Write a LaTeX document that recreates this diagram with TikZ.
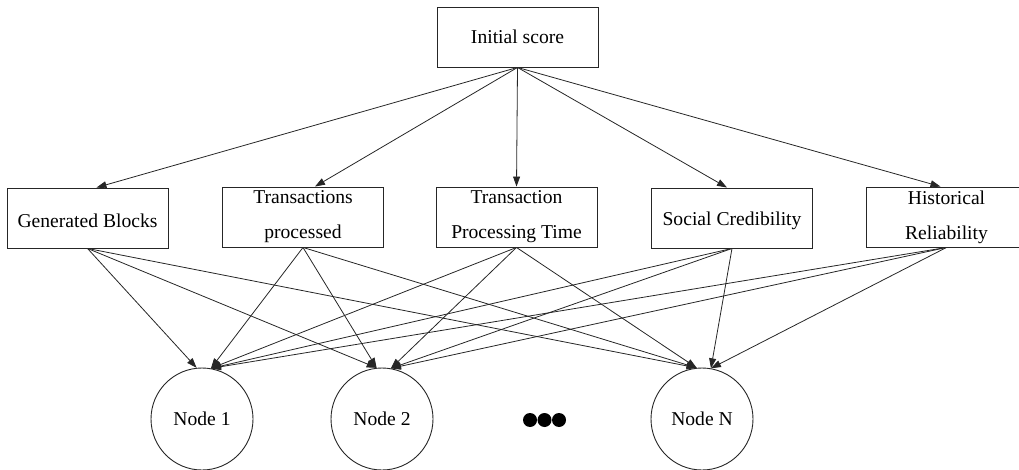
\documentclass[tikz,border=0pt]{standalone}
\usepackage{fontspec}
\setmainfont{Liberation Serif}
\usetikzlibrary{arrows.meta}
\newcommand{\lowtext}[1]{\raisebox{-3pt}[\height][\depth]{#1}}
\begin{document}
\begin{tikzpicture}[x=1pt,y=-1pt,
  box/.style={draw=black!85,line width=0.9pt,minimum width=161pt,minimum height=60pt,inner sep=0pt,align=center,font=\fontsize{19.6}{35}\selectfont},
  circ/.style={draw=black!85,line width=0.9pt,circle,minimum size=102pt,inner sep=0pt,font=\fontsize{19.6}{23}\selectfont},
  edge/.style={draw=black!85,line width=0.8pt,-{Triangle[length=10pt,width=7pt]}}]
\useasboundingbox (0,0) rectangle (1019,470);
\node[box] (init) at (517.5,37) {Initial score};
\node[box] (gb)  at (87.5,218)  {\lowtext{Generated Blocks}};
\node[box] (tp)  at (303,217)   {Transactions\\processed};
\node[box] (tpt) at (516.5,217) {Transaction\\Processing Time};
\node[box] (sc)  at (732,218)   {\lowtext{Social Credibility}};
\node[box] (hr)  at (946.5,217) {Historical\\Reliability};
\node[circ] (n1) at (202,419) {Node 1};
\node[circ] (n2) at (382,419) {Node 2};
\node[circ] (nN) at (702,419) {Node N};
\fill (530,420) circle[radius=7pt] (544.5,420) circle[radius=7pt] (559,420) circle[radius=7pt];
% top edges
\draw[edge] (init.south) -- ([xshift=9pt]gb.north);
\draw[edge] (init.south) -- ([xshift=12pt]tp.north);
\draw[edge] (init.south) -- (tpt.north);
\draw[edge] (init.south) -- ([xshift=-5pt]sc.north);
\draw[edge] (init.south) -- ([xshift=-6pt]hr.north);
% bottom edges
\draw[edge] (gb.south) -- (n1.96);
\draw[edge] (gb.south) -- (n2.96);
\draw[edge] (gb.south) -- (nN.96);
\draw[edge] (tp.south) -- (n1.80);
\draw[edge] (tp.south) -- (n2.96);
\draw[edge] (tp.south) -- (nN.96);
\draw[edge] (tpt.south) -- (n1.80);
\draw[edge] (tpt.south) -- (n2.80);
\draw[edge] (tpt.south) -- (nN.96);
\draw[edge] (sc.south) -- (n1.80);
\draw[edge] (sc.south) -- (n2.80);
\draw[edge] (sc.south) -- (nN.80);
\draw[edge] (hr.south) -- (n1.80);
\draw[edge] (hr.south) -- (n2.80);
\draw[edge] (hr.south) -- (nN.80);
\end{tikzpicture}
\end{document}
